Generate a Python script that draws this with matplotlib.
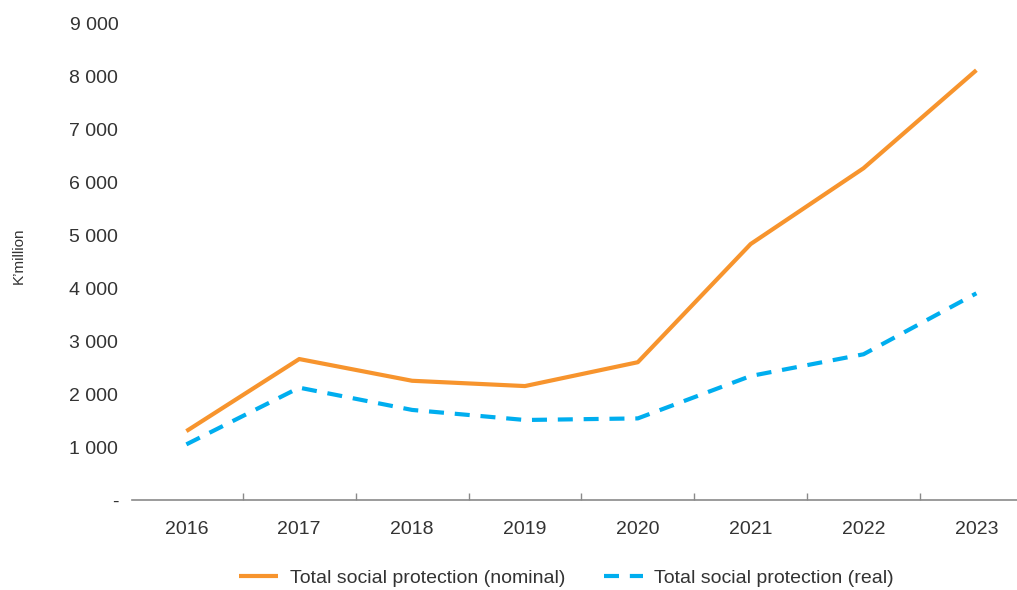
import numpy as np
import matplotlib.pyplot as plt
from matplotlib.ticker import FixedLocator

# data (K'million)
years = ['2016', '2017', '2018', '2019', '2020', '2021', '2022', '2023']
nominal = [1300, 2660, 2250, 2150, 2600, 4830, 6260, 8110]
real = [1050, 2120, 1700, 1510, 1540, 2340, 2750, 3900]
y_ticks = [0, 1000, 2000, 3000, 4000, 5000, 6000, 7000, 8000, 9000]
y_labels = ['-', '1 000', '2 000', '3 000', '4 000', '5 000', '6 000', '7 000', '8 000', '9 000']

plt.rcParams['font.family'] = ['Liberation Sans', 'DejaVu Sans']

fig = plt.figure(figsize=(10.17, 5.9), dpi=100)
ax = fig.add_axes([0.13, 0.1525, 0.87, 0.8085])

x = np.arange(len(years))
ax.plot(x, nominal, color='#F7942D', lw=3.0, solid_capstyle='butt',
        label='Total social protection (nominal)')
ax.plot(x, real, color='#00AEEF', lw=3.0, dashes=(3.6, 2.6), dash_capstyle='butt',
        label='Total social protection (real)')

ax.set_xlim(-0.48, 7.36)
ax.set_ylim(0, 9000)

# category boundaries get the tick marks, labels sit at the centres
ax.xaxis.set_major_locator(FixedLocator(np.arange(-0.5, 7, 1.0)))
ax.xaxis.set_minor_locator(FixedLocator(x))
ax.set_xticklabels([])
ax.set_xticklabels(years, minor=True)
ax.tick_params(axis='x', which='major', direction='in', length=5, width=1, color='#8a8a8a')
ax.tick_params(axis='x', which='minor', length=0, pad=15, labelsize=14, labelcolor='#333333')

ax.set_yticks(y_ticks)
ax.set_yticklabels(y_labels)
ax.tick_params(axis='y', length=0, pad=10, labelsize=14, labelcolor='#333333')

for s in ['top', 'right', 'left']:
    ax.spines[s].set_visible(False)
ax.spines['bottom'].set_color('#8a8a8a')
ax.spines['bottom'].set_linewidth(1.2)

fig.text(0.018, 0.566, 'K\u2019million', rotation=90, ha='center', va='center',
         fontsize=11, color='#333333')

leg = fig.legend(loc='center', bbox_to_anchor=(0.557, 0.02), ncol=2, frameon=False,
                 handlelength=2.0, columnspacing=2.0, handletextpad=0.6,
                 prop={'size': 14})
for t in leg.get_texts():
    t.set_color('#333333')

fig.savefig('out.png', dpi=100)
